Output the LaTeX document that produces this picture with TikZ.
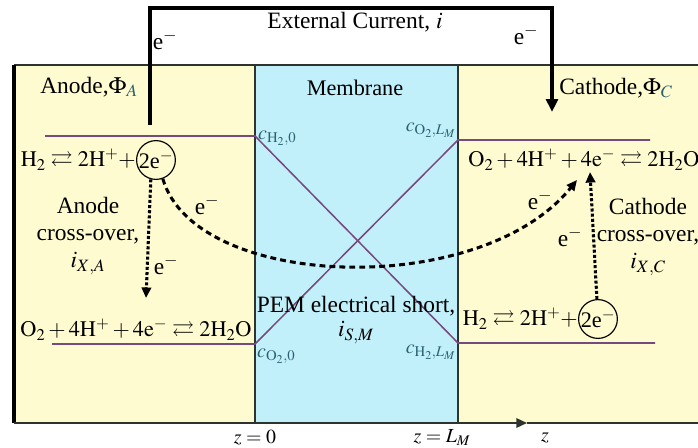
\documentclass[tikz,border=0pt]{standalone}
\usepackage{mathptmx}
\usepackage{amssymb}
\usepackage[no-math]{fontspec}
\setmainfont{Liberation Serif}
\usetikzlibrary{arrows.meta,positioning}

\definecolor{electrode}{RGB}{255,251,208}
\definecolor{membranecol}{RGB}{194,240,250}
\definecolor{profileviolet}{RGB}{118,74,124}
\definecolor{labelteal}{RGB}{42,98,112}
\definecolor{wallgray}{RGB}{45,52,45}

\begin{document}
\begin{tikzpicture}[x=0.03cm, y=-0.03cm,
  txt/.style={font=\fontsize{20}{23}\selectfont, inner sep=0pt},
  smalltxt/.style={txt, font=\fontsize{17}{20}\selectfont},
  eqn/.style={txt, font=\fontsize{19}{22}\selectfont},
  conc/.style={smalltxt, text=labelteal},
  profile/.style={draw=profileviolet, line width=1.3pt},
  wall/.style={draw=wallgray, line width=1pt},
  wire/.style={draw=black, line width=2.6pt},
  ecirc/.style={eqn, draw, circle, line width=1pt, inner sep=0pt},
  dotarrow/.style={line width=2.6pt, dash pattern=on 2.6pt off 1.8pt,
                   -{Triangle[length=9pt,width=8pt]}},
  dasharrow/.style={line width=2.6pt, dash pattern=on 5pt off 3.5pt,
                    -{Triangle[length=9pt,width=8pt]}}
]
\useasboundingbox (0,0) rectangle (698,448);
\fill[electrode] (14,65) rectangle (255,423);
\fill[membranecol] (255,65) rectangle (458,423);
\fill[electrode] (458,65) rectangle (698,423);

\coordinate (frametl) at (14,65);
\coordinate (frametr) at (698,65);
\coordinate (framebl) at (14,423);
\coordinate (zarrow) at (527,423);
\coordinate (framebr) at (698,423);
\coordinate (memtl) at (255,65);
\coordinate (membl) at (255,423);
\coordinate (memtr) at (458,65);
\coordinate (membr) at (458,423);
\draw[wall] (frametl) -- (frametr);
\draw[wall] (memtl) -- (membl);
\draw[wall] (memtr) -- (membr);
\draw[line width=3pt] (frametl) -- (framebl);
\draw[wall, line width=1.6pt, -{Triangle[length=9pt,width=8pt]}] (framebl) -- (zarrow);
\draw[wall, line width=1.6pt] (zarrow) -- (framebr);

\coordinate (h2a) at (45,136);
\coordinate (h2m0) at (255,136);
\coordinate (h2mL) at (458,343);
\coordinate (h2c) at (655,343);
\coordinate (o2a) at (52,344);
\coordinate (o2m0) at (255,344);
\coordinate (o2mL) at (458,140);
\coordinate (o2c) at (650,140);
\draw[profile] (h2a) -- (h2m0) -- (h2mL) -- (h2c);
\draw[profile] (o2a) -- (o2m0) -- (o2mL) -- (o2c);

\coordinate (wirestart) at (150,125);
\coordinate (wiretop) at (552,8);
\coordinate (wireend) at (552,112);
\draw[wire, -{Triangle[length=11pt,width=10pt]}] (wirestart) |- (wiretop) -- (wireend);

\node[txt] (extlabel) at (355,22) {External Current, $i$};
\node[txt] (eleft) at (165,40) {e$^-$};
\node[txt] (eright) at (526,35) {e$^-$};
\node[txt] (anodelab) at (89,87) {Anode,$\Phi_{\color{labelteal}A}$};
\node[txt, font=\fontsize{19}{22}\selectfont] (memlab) at (355,88) {Membrane};
\node[txt] (cathlab) at (616,88) {Cathode,$\Phi_{\color{labelteal}C}$};

\node[conc, anchor=west] (ch2zero) at (258,138) {$c_{\mathrm{H_2},0}$};
\node[conc, anchor=east] (co2lm) at (456,130) {$c_{\mathrm{O_2},L_M}$};
\node[conc, anchor=north west] (co2zero) at (257,349) {$c_{\mathrm{O_2},0}$};
\node[conc, anchor=east] (ch2lm) at (456,352) {$c_{\mathrm{H_2},L_M}$};

\node[eqn, anchor=east] (anodeeq) at (136,160) {$\mathrm{H_2\rightleftarrows 2H^+ +}$};
\node[ecirc, right=0pt of anodeeq] (anodee) {2e$^-$};
\node[eqn] (catheq) at (584,160) {$\mathrm{O_2 + 4H^+ + 4e^- \rightleftarrows 2H_2O}$};
\node[eqn] (anodeo2) at (136,330) {$\mathrm{O_2 + 4H^+ + 4e^- \rightleftarrows 2H_2O}$};
\node[eqn, anchor=east] (cathh2) at (578,319) {$\mathrm{H_2\rightleftarrows 2H^+ +}$};
\node[ecirc, right=0pt of cathh2] (cathe) {2e$^-$};

\node[txt, align=center] (anodex) at (88,236) {Anode\\cross-over,\\$i_{X,A}$};
\node[txt, align=center] (cathx) at (648,237) {Cathode\\cross-over,\\$i_{X,C}$};
\node[txt, align=center, font=\fontsize{20}{21}\selectfont] (pem) at (356,320)
  {PEM electrical short,\\$i_{S,M}$};

\coordinate (anodedown) at (146,298);
\coordinate (cathup) at (590,172);
\coordinate (shortend) at (577,180);
\draw[dotarrow] (anodee.255) -- (anodedown);
\draw[dotarrow] (cathe) -- (cathup);
\draw[dasharrow] (anodee.290) .. controls (195,290) and (480,300) .. (shortend);

\node[txt] (eshortl) at (207,205) {e$^-$};
\node[txt] (eshortr) at (540,200) {e$^-$};
\node[txt] (eanode) at (166,265) {e$^-$};
\node[txt] (ecath) at (570,237) {e$^-$};

\node[smalltxt] (zzero) at (255,438) {$z = 0$};
\node[smalltxt] (zlm) at (442,438) {$z = L_M$};
\node[smalltxt] (zlab) at (545,438) {$z$};
\end{tikzpicture}
\end{document}
